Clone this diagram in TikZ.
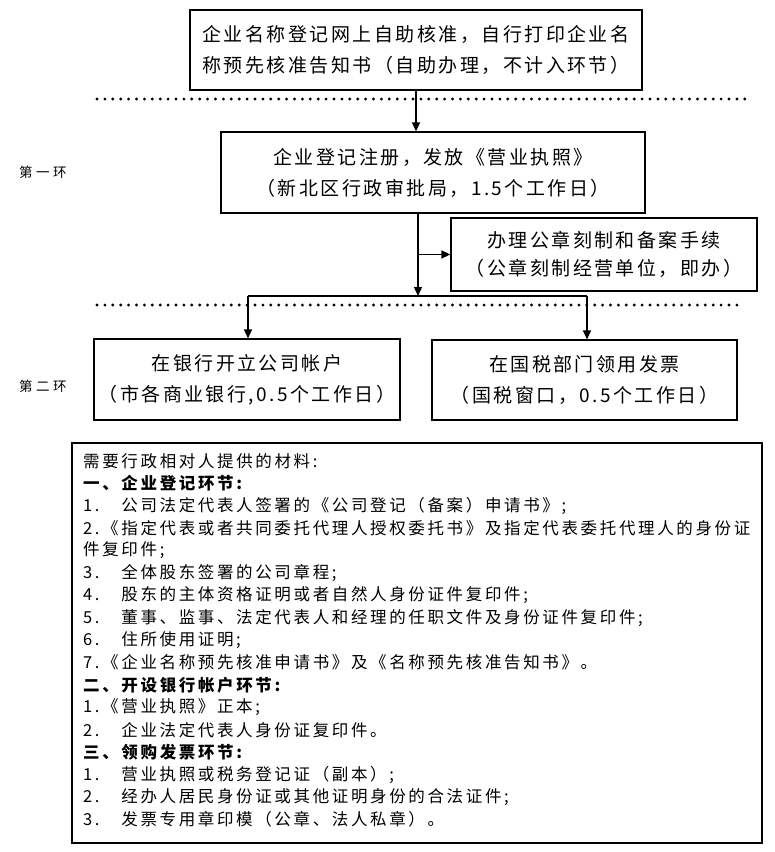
\documentclass[tikz,border=0pt]{standalone}
\usepackage{fontspec}
\usetikzlibrary{arrows.meta}
\newfontfamily\cjkbox[LetterSpace=13]{Noto Sans CJK SC}
\newfontfamily\cjktext[LetterSpace=16]{Noto Sans CJK SC}
\newfontfamily\cjklab[LetterSpace=26]{Noto Sans CJK SC}
\begin{document}
\begin{tikzpicture}[x=1pt,y=-1pt,
  box/.style={draw,line width=1.2pt,align=center,inner sep=0pt,font=\cjkbox\fontsize{19}{31}\selectfont},
  arr/.style={line width=1.2pt,-{Triangle[length=9pt,width=8pt]}},
  conn/.style={line width=1.2pt},
  dots/.style={line width=3.2pt,dash pattern=on 0pt off 7.9pt,line cap=round},
  lab/.style={font=\cjklab\fontsize{13.5}{15}\selectfont,inner sep=0pt},
  txt/.style={anchor=west,inner sep=0pt,font=\cjktext\fontsize{16.5}{18}\selectfont}]
\useasboundingbox (0,0) rectangle (775,852);
% boxes
\node[box,minimum width=452pt,minimum height=80pt] (b1) at (416,50)
  {企业名称登记网上自助核准，自行打印企业名\\称预先核准告知书（自助办理，不计入环节）};
\node[box,minimum width=424pt,minimum height=81pt] (b2) at (433,172.5)
  {企业登记注册，发放《营业执照》\\（新北区行政审批局，1.5个工作日）};
\node[box,minimum width=306pt,minimum height=73pt,font=\cjkbox\fontsize{19}{28}\selectfont] (b3) at (604,254.5)
  {办理公章刻制和备案手续\\（公章刻制经营单位，即办）};
\node[box,minimum width=306pt,minimum height=81pt] (bank) at (247,379.5)
  {在银行开立公司帐户\\（市各商业银行,0.5个工作日）};
\node[box,minimum width=305pt,minimum height=80pt] (tax) at (584.5,380)
  {在国税部门领用发票\\（国税窗口，0.5个工作日）};
\node[draw,line width=1.2pt,minimum width=690pt,minimum height=400pt,inner sep=0pt] (mat) at (417,643) {};
% labels
\node[lab] (l1) at (43,172) {第一环};
\node[lab] (l2) at (43,386) {第二环};
% dotted lines
\coordinate (d1a) at (97,99); \coordinate (d1b) at (745,99);
\coordinate (d2a) at (97,305); \coordinate (d2b) at (740,305);
\draw[dots] (d1a) -- (d1b);
\draw[dots] (d2a) -- (d2b);
% connectors
\coordinate (j) at (418,296);
\coordinate (jl) at (248,296);
\coordinate (jr) at (587,296);
\draw[arr] (b1.south) -- (b1.south |- b2.north);
\draw[arr] (j |- b2.south) -- (j);
\draw[arr] (j |- b3.west) -- (b3.west);
\draw[conn] (jl) -- (jr);
\draw[arr] (jl) -- (jl |- bank.north);
\draw[arr] (jr) -- (jr |- tax.north);
% materials text
\foreach \txt [count=\i] in {
  需要行政相对人提供的材料:,
  {\bfseries 一、企业登记环节:},
  1.　公司法定代表人签署的《公司登记（备案）申请书》;,
  2.《指定代表或者共同委托代理人授权委托书》及指定代表委托代理人的身份证,
  件复印件;,
  3.　全体股东签署的公司章程;,
  4.　股东的主体资格证明或者自然人身份证件复印件;,
  5.　董事、监事、法定代表人和经理的任职文件及身份证件复印件;,
  6.　住所使用证明;,
  7.《企业名称预先核准申请书》及《名称预先核准告知书》。,
  {\bfseries 二、开设银行帐户环节:},
  1.《营业执照》正本;,
  2.　企业法定代表人身份证复印件。,
  {\bfseries 三、领购发票环节:},
  1.　营业执照或税务登记证（副本）;,
  2.　经办人居民身份证或其他证明身份的合法证件;,
  3.　发票专用章印模（公章、法人私章）。}
  { \node[txt] (t\i) at (83,{461+22.4*(\i-1)}) {\txt}; }
\end{tikzpicture}
\end{document}
